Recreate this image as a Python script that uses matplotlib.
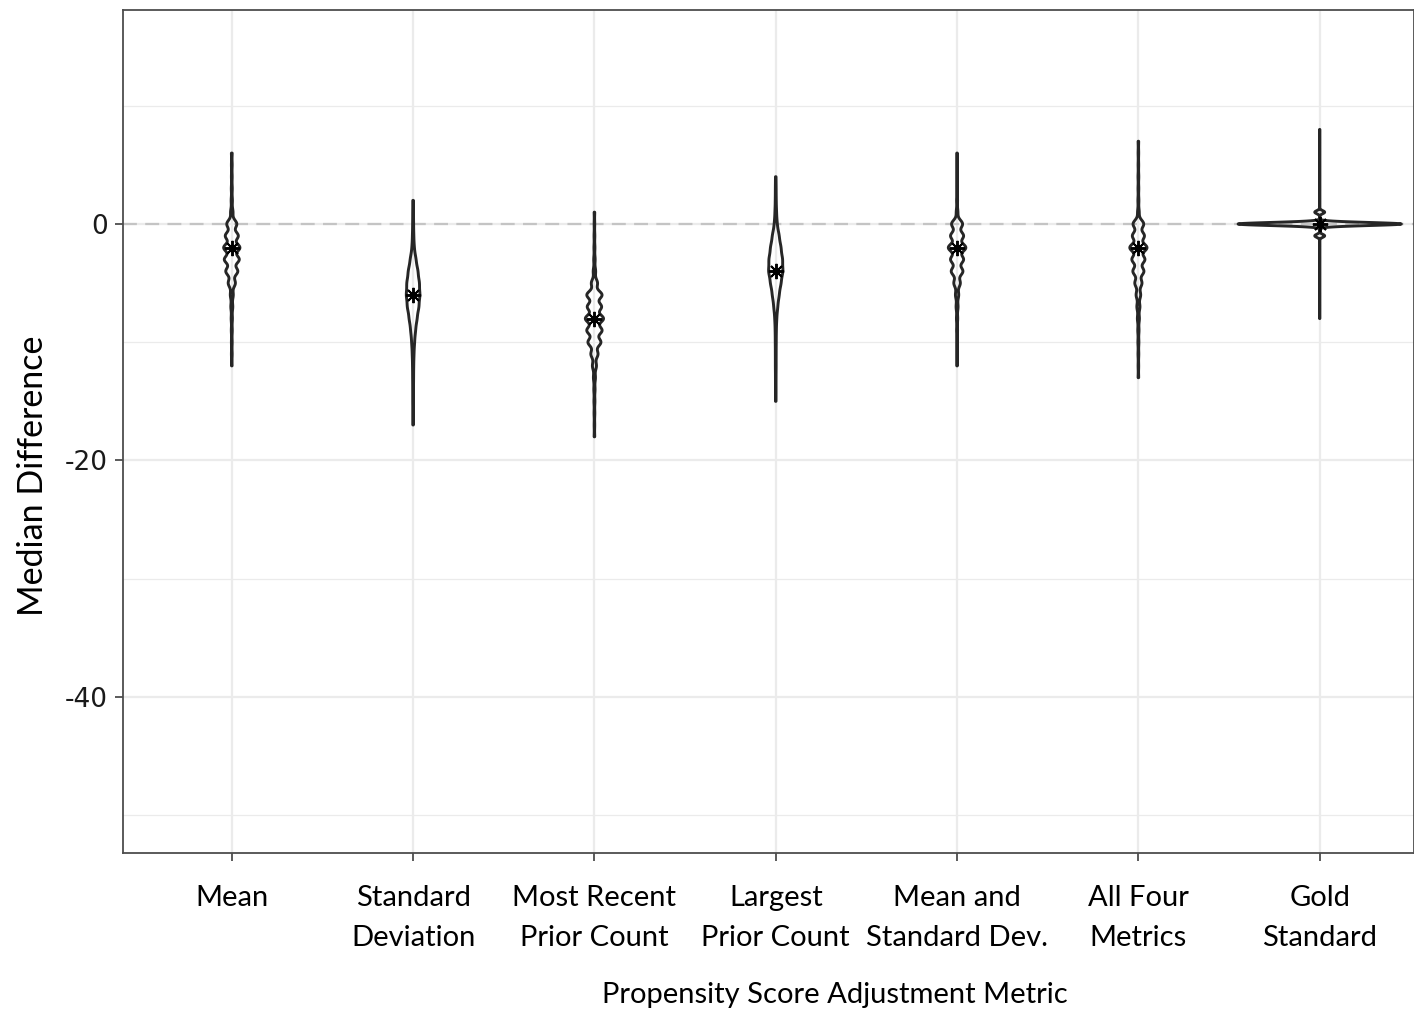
import numpy as np
import matplotlib.pyplot as plt

plt.rcParams['lines.scale_dashes'] = False

# Data: counts of median differences per integer value, listed from the top value downward
categories = ["Mean", "Standard\nDeviation", "Most Recent\nPrior Count", "Largest\nPrior Count",
              "Mean and\nStandard Dev.", "All Four\nMetrics", "Gold\nStandard"]
top_values = [6, 2, 1, 4, 6, 7, 8]

mean_counts = [12, 12, 12, 15, 19, 37, 155, 200, 250, 230, 185, 110, 45, 30, 19, 15, 12, 12, 9]
sd_counts = [11, 15, 18, 26, 44, 110, 185, 240, 260, 220, 150, 92, 55, 33, 22, 18, 15, 15, 11, 11]
recent_counts = [9, 9, 12, 15, 22, 37, 95, 235, 220, 280, 235, 200, 110, 62, 31, 19, 15, 12, 9, 9]
largest_counts = [11, 15, 18, 30, 55, 130, 200, 260, 275, 200, 130, 75, 37, 22, 18, 15, 15, 11, 11, 11]
mean_sd_counts = [9, 9, 12, 12, 15, 25, 170, 200, 270, 200, 180, 100, 50, 30, 19, 15, 12, 9, 9]
all_four_counts = [9, 9, 9, 12, 12, 15, 25, 165, 185, 265, 200, 170, 110, 70, 47, 31, 19, 15, 12, 9, 9]
gold_counts = [2, 2, 2, 2, 2, 2, 2, 61, 1010, 61, 2, 2, 2, 2, 2, 2, 2]

all_counts = [mean_counts, sd_counts, recent_counts, largest_counts,
              mean_sd_counts, all_four_counts, gold_counts]
bandwidths = [0.33, 0.5, 0.33, 0.5, 0.33, 0.33, 0.13]


def kde(vals, cnts, bw, grid):
    d = np.zeros_like(grid)
    for v, c in zip(vals, cnts):
        d += c * np.exp(-0.5 * ((grid - v) / bw) ** 2)
    return d / (bw * np.sqrt(2 * np.pi))


def weighted_median(vals, cnts):
    order = np.argsort(vals)
    v = np.asarray(vals)[order]
    c = np.cumsum(np.asarray(cnts)[order])
    return v[np.searchsorted(c, c[-1] / 2)]


fig = plt.figure(figsize=(14.14, 10.09), dpi=100)
ax = fig.add_axes([123 / 1414, 156 / 1009, 1291 / 1414, 843 / 1009])

violins = []
for top, cnts, bw in zip(top_values, all_counts, bandwidths):
    vals = top - np.arange(len(cnts))
    grid = np.linspace(vals.min(), vals.max(), 800)
    violins.append((vals, grid, kde(vals, cnts, bw, grid)))
gmax = max(d.max() for _, _, d in violins)

ax.axhline(0, color='#c4c4c4', lw=1.6, dashes=(10, 6), zorder=2)

outline = '#262626'
for i, ((vals, grid, dens), cnts) in enumerate(zip(violins, all_counts)):
    pos = i + 1
    w = dens / gmax * 0.45
    xs = np.concatenate([pos + w, (pos - w)[::-1]])
    ys = np.concatenate([grid, grid[::-1]])
    ax.fill(xs, ys, facecolor='none', edgecolor=outline, lw=2.1, joinstyle='round', zorder=3)
    ax.plot(pos, weighted_median(vals, cnts), marker=(8, 2, 0), ms=11, mew=1.4,
            color='black', zorder=4)

ax.set_xlim(0.4, 7.52)
ax.set_ylim(-53.2, 18.1)
ax.set_yticks([0, -20, -40])
ax.set_yticklabels(['0', '-20', '-40'])
ax.set_yticks([10, -10, -30, -50], minor=True)
ax.set_xticks(range(1, 8))
ax.set_xticklabels(categories, family='Lato', fontsize=21, linespacing=1.65)

ax.grid(True, which='major', color='#ebebeb', lw=1.6, zorder=0)
ax.grid(True, which='minor', axis='y', color='#ebebeb', lw=0.9, zorder=0)
ax.set_axisbelow(True)
for s in ax.spines.values():
    s.set_color('#4d4d4d')
    s.set_linewidth(1.3)
ax.tick_params(axis='y', which='major', length=6, width=1.3, color='#4d4d4d',
               labelsize=19, labelcolor='#1a1a1a', pad=5)
ax.tick_params(axis='y', which='minor', length=0)
ax.tick_params(axis='x', length=6, width=1.3, color='#4d4d4d', pad=17, labelcolor='black')

ax.set_ylabel('Median Difference', family='Lato', fontsize=24.5)
ax.yaxis.set_label_coords(-0.057, 0.447)
fig.text(835 / 1414, 6 / 1009, 'Propensity Score Adjustment Metric', family='Lato',
         fontsize=21, ha='center', va='baseline')

fig.savefig('out.png', dpi=100)
